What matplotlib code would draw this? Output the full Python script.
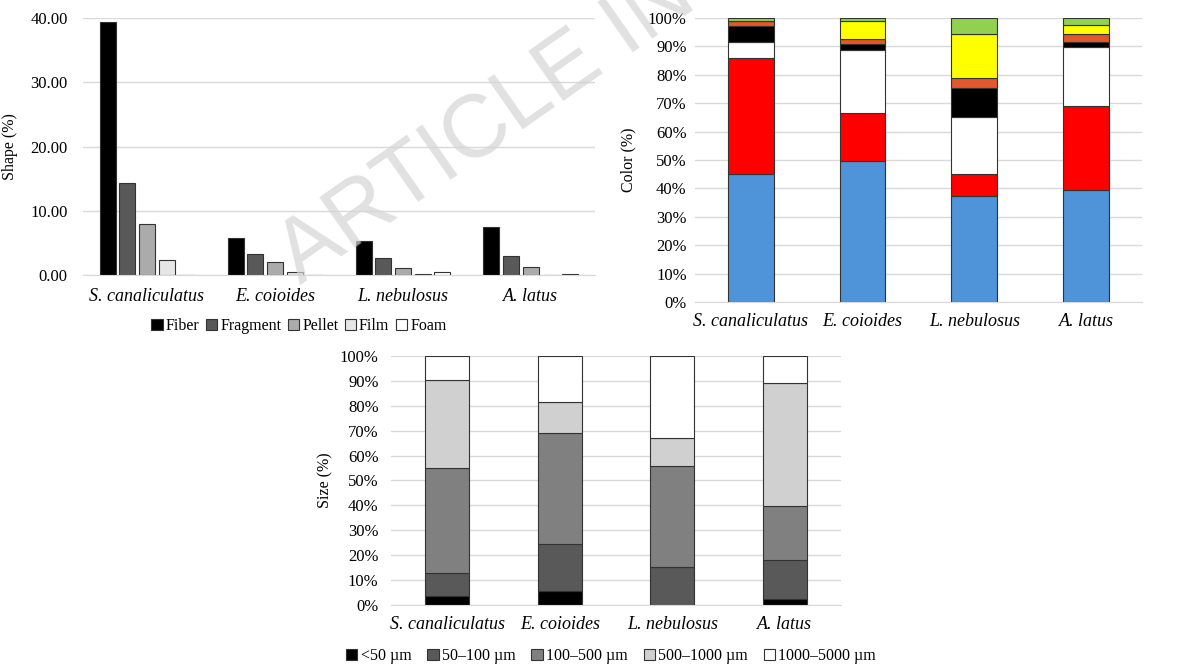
import numpy as np
import matplotlib
matplotlib.use("Agg")
import matplotlib.pyplot as plt
from matplotlib.ticker import FuncFormatter

plt.rcParams['font.family'] = ['Liberation Serif', 'DejaVu Serif']

species = ['S. canaliculatus', 'E. coioides', 'L. nebulosus', 'A. latus']

# shape (%) - grouped bars
shape_names = ['Fiber', 'Fragment', 'Pellet', 'Film', 'Foam']
fiber = [39.4, 5.7, 5.3, 7.5]
fragment = [14.4, 3.2, 2.6, 3.0]
pellet = [7.9, 2.0, 1.1, 1.25]
film = [2.4, 0.4, 0.2, 0.0]
foam = [0.0, 0.0, 0.45, 0.2]

# color (%) - stacked, no legend in the source
blue = [45.0, 49.5, 37.2, 39.5]
red = [41.0, 17.2, 7.8, 29.5]
white = [5.5, 22.0, 20.0, 20.8]
black = [5.8, 2.3, 10.3, 1.8]
orange = [1.5, 1.6, 3.7, 2.8]
yellow = [0.2, 6.5, 15.5, 3.2]
green = [1.0, 0.9, 5.5, 2.4]

# size (%) - stacked
size_names = ['<50 µm', '50–100 µm', '100–500 µm', '500–1000 µm', '1000–5000 µm']
s_lt50 = [3.5, 5.8, 0.0, 2.5]
s_50_100 = [9.2, 18.7, 15.2, 15.5]
s_100_500 = [42.3, 44.7, 40.5, 21.7]
s_500_1000 = [35.5, 12.3, 11.3, 49.6]
s_1000_5000 = [9.5, 18.5, 33.0, 10.7]

grid_c = '#d9d9d9'
edge_c = '#333333'


def style_axes(ax, ypad, xpad):
    for s in ['top', 'right', 'left']:
        ax.spines[s].set_visible(False)
    ax.spines['bottom'].set_color(grid_c)
    ax.yaxis.grid(True, color=grid_c, linewidth=1)
    ax.set_axisbelow(True)
    ax.tick_params(axis='both', length=0, labelsize=12)
    ax.tick_params(axis='y', pad=ypad)
    ax.tick_params(axis='x', pad=xpad)
    ax.set_xticks(range(len(species)))
    ax.set_xticklabels(species, style='italic', fontsize=13)
    ax.set_xlim(-0.5, len(species) - 0.5)


fig = plt.figure(figsize=(11.97, 6.64), dpi=100)

# --- shape ---
ax1 = fig.add_axes([0.0693, 0.5858, 0.4277, 0.387])
x = np.arange(len(species))
shape_vals = [fiber, fragment, pellet, film, foam]
shape_cols = ['#000000', '#595959', '#ababab', '#e6e6e6', '#ffffff']
step = 0.154
for i, (vals, col, name) in enumerate(zip(shape_vals, shape_cols, shape_names)):
    ax1.bar(x + (i - 2) * step, vals, width=0.125, color=col,
            edgecolor=edge_c, linewidth=0.8, label=name)
ax1.set_ylim(0, 40)
ax1.set_yticks([0, 10, 20, 30, 40])
ax1.yaxis.set_major_formatter(FuncFormatter(lambda v, p: f'{v:.2f}'))
style_axes(ax1, 11, 9)
ax1.set_ylabel('Shape (%)', fontsize=11.5)
ax1.yaxis.set_label_coords(-0.127, 0.5)
h, l = ax1.get_legend_handles_labels()
fig.legend(h, l, loc='center', bbox_to_anchor=(299 / 1197, 1 - 326 / 664),
           ncol=5, frameon=False, fontsize=11.5, handlelength=0.7,
           handleheight=0.7, handletextpad=0.2, columnspacing=0.4,
           borderpad=0)

# --- color ---
ax2 = fig.add_axes([0.5806, 0.5452, 0.3734, 0.4277])
color_vals = [blue, red, white, black, orange, yellow, green]
color_cols = ['#4f93d8', '#ff0000', '#ffffff', '#000000', '#e2572b', '#ffff00', '#92d050']
bottom = np.zeros(len(species))
for vals, col in zip(color_vals, color_cols):
    ax2.bar(x, vals, bottom=bottom, width=0.41, color=col,
            edgecolor=edge_c, linewidth=0.8)
    bottom += np.array(vals)
ax2.set_ylim(0, 100)
ax2.set_yticks(range(0, 101, 10))
ax2.yaxis.set_major_formatter(FuncFormatter(lambda v, p: f'{v:.0f}%'))
style_axes(ax2, 6, 8)
ax2.set_ylabel('Color (%)', fontsize=11.5)
ax2.yaxis.set_label_coords(-0.13, 0.5)

# --- size ---
ax3 = fig.add_axes([0.3267, 0.0889, 0.376, 0.375])
size_vals = [s_lt50, s_50_100, s_100_500, s_500_1000, s_1000_5000]
size_cols = ['#000000', '#595959', '#808080', '#d0d0d0', '#ffffff']
bottom = np.zeros(len(species))
for vals, col, name in zip(size_vals, size_cols, size_names):
    ax3.bar(x, vals, bottom=bottom, width=0.39, color=col,
            edgecolor=edge_c, linewidth=0.8, label=name)
    bottom += np.array(vals)
ax3.set_ylim(0, 100)
ax3.set_yticks(range(0, 101, 10))
ax3.yaxis.set_major_formatter(FuncFormatter(lambda v, p: f'{v:.0f}%'))
style_axes(ax3, 9, 8)
ax3.set_ylabel('Size (%)', fontsize=11.5)
ax3.yaxis.set_label_coords(-0.129, 0.5)
h, l = ax3.get_legend_handles_labels()
fig.legend(h, l, loc='center', bbox_to_anchor=(611 / 1197, 1 - 656 / 664),
           ncol=5, frameon=False, fontsize=11.5, handlelength=0.7,
           handleheight=0.7, handletextpad=0.2, columnspacing=1.0,
           borderpad=0)

# watermark (cropped at the top edge, as in the source)
fig.text(300 / 1197, 1 - 285 / 664, 'ARTICLE IN PRESS', fontsize=64,
         family='Liberation Sans', color='#d4d4d4', alpha=0.7,
         rotation=35, rotation_mode='anchor', ha='left', va='baseline',
         zorder=10)

fig.savefig('out.png', dpi=100)
